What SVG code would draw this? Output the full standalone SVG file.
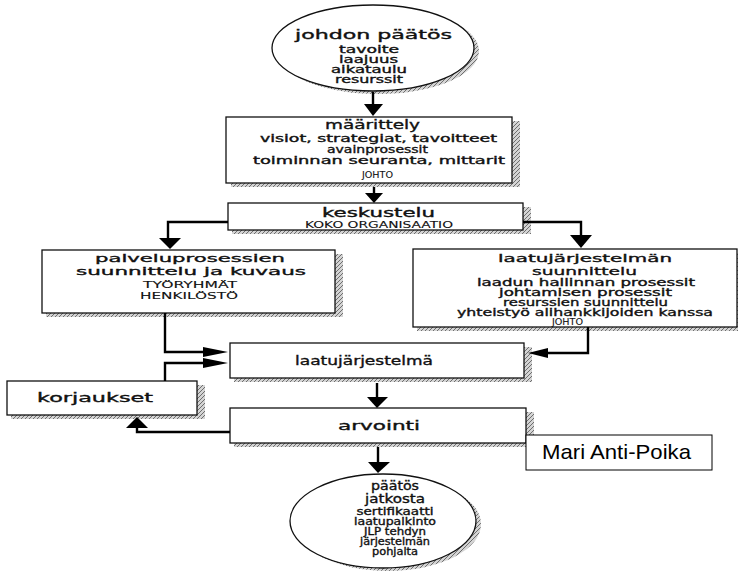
<svg xmlns="http://www.w3.org/2000/svg" width="738" height="571" viewBox="0 0 738 571">
  <defs>
    <pattern id="hatch" width="4" height="4" patternUnits="userSpaceOnUse">
      <rect width="4" height="4" fill="#d4d4d4"/>
      <path d="M0,4 L4,0" stroke="#6e6e6e" stroke-width="1"/>
    </pattern>
    <style>
      .box { fill: #fff; stroke: #111; stroke-width: 1.3; }
      .shadow { fill: url(#hatch); }
      .note { fill: #fff; stroke: #000; stroke-width: 1; }
      .t { font-family: "DejaVu Sans", Verdana, sans-serif; fill: #111; stroke: #111; stroke-width: 0.35; }
      .h { font-size: 12px; }
      .h2 { font-size: 11px; }
      .s { font-size: 10px; }
      .c { font-size: 8.5px; stroke-width: 0.1; }
      .mari { font-family: "Liberation Sans", Arial, sans-serif; font-size: 21px; fill: #000; }
      .line { fill: none; stroke: #000; stroke-width: 2.4; }
      .head { fill: #000; }
    </style>
  </defs>
  <rect width="738" height="571" fill="#fff"/>

  <!-- start: management decision -->
  <g id="johdon-paatos">
    <ellipse class="shadow" cx="378" cy="51" rx="101" ry="43"/>
    <ellipse class="box" cx="373" cy="48" rx="101" ry="43"/>
    <text class="t h" x="295" y="39" textLength="157" lengthAdjust="spacingAndGlyphs">johdon päätös</text>
    <text class="t s" x="339" y="53" textLength="60" lengthAdjust="spacingAndGlyphs">tavoite</text>
    <text class="t s" x="339" y="63" textLength="59" lengthAdjust="spacingAndGlyphs">laajuus</text>
    <text class="t s" x="331" y="73" textLength="76" lengthAdjust="spacingAndGlyphs">aikataulu</text>
    <text class="t s" x="335" y="83" textLength="68" lengthAdjust="spacingAndGlyphs">resurssit</text>
  </g>

  <g id="maarittely">
    <rect class="shadow" x="231" y="121" width="289" height="66"/>
    <rect class="box" x="226" y="117" width="286" height="66"/>
    <text class="t h" x="325" y="129" textLength="95" lengthAdjust="spacingAndGlyphs">määrittely</text>
    <text class="t s" x="260" y="142" textLength="237" lengthAdjust="spacingAndGlyphs">visiot, strategiat, tavoitteet</text>
    <text class="t s" x="327" y="153" textLength="101" lengthAdjust="spacingAndGlyphs">avainprosessit</text>
    <text class="t s" x="253" y="164" textLength="252" lengthAdjust="spacingAndGlyphs">toiminnan seuranta, mittarit</text>
    <text class="t c" x="362" y="178" textLength="31" lengthAdjust="spacingAndGlyphs">JOHTO</text>
  </g>

  <g id="keskustelu">
    <rect class="shadow" x="232" y="207" width="299" height="27"/>
    <rect class="box" x="228" y="203" width="295" height="27"/>
    <text class="t h" x="322" y="217" textLength="113" lengthAdjust="spacingAndGlyphs">keskustelu</text>
    <text class="t c" x="305" y="228" textLength="148" lengthAdjust="spacingAndGlyphs">KOKO ORGANISAATIO</text>
  </g>

  <g id="palveluprosessit">
    <rect class="shadow" x="46" y="254" width="297" height="63"/>
    <rect class="box" x="42" y="250" width="293" height="63"/>
    <text class="t h2" x="95" y="262" textLength="190" lengthAdjust="spacingAndGlyphs">palveluprosessien</text>
    <text class="t h2" x="76" y="275" textLength="230" lengthAdjust="spacingAndGlyphs">suunnittelu ja kuvaus</text>
    <text class="t c" x="143" y="288" textLength="94" lengthAdjust="spacingAndGlyphs">TYÖRYHMÄT</text>
    <text class="t c" x="140" y="299" textLength="98" lengthAdjust="spacingAndGlyphs">HENKILÖSTÖ</text>
  </g>

  <g id="laatujarjestelman-suunnittelu">
    <rect class="shadow" x="417" y="253" width="328" height="78"/>
    <rect class="box" x="413" y="249" width="324" height="78"/>
    <text class="t h2" x="498" y="262" textLength="174" lengthAdjust="spacingAndGlyphs">laatujärjestelmän</text>
    <text class="t h2" x="532" y="275" textLength="105" lengthAdjust="spacingAndGlyphs">suunnittelu</text>
    <text class="t s" x="477" y="286" textLength="218" lengthAdjust="spacingAndGlyphs">laadun hallinnan prosessit</text>
    <text class="t s" x="499" y="296" textLength="173" lengthAdjust="spacingAndGlyphs">johtamisen prosessit</text>
    <text class="t s" x="503" y="306" textLength="165" lengthAdjust="spacingAndGlyphs">resurssien suunnittelu</text>
    <text class="t s" x="457" y="316" textLength="256" lengthAdjust="spacingAndGlyphs">yhteistyö alihankkijoiden kanssa</text>
    <text class="t c" x="552" y="325" textLength="31" lengthAdjust="spacingAndGlyphs">JOHTO</text>
  </g>

  <g id="laatujarjestelma">
    <rect class="shadow" x="234" y="347" width="298" height="35"/>
    <rect class="box" x="230" y="343" width="294" height="35"/>
    <text class="t h" x="295" y="365" textLength="138" lengthAdjust="spacingAndGlyphs">laatujärjestelmä</text>
  </g>

  <g id="korjaukset">
    <rect class="shadow" x="11" y="385" width="194" height="34"/>
    <rect class="box" x="7" y="381" width="190" height="34"/>
    <text class="t h" x="37" y="402" textLength="116" lengthAdjust="spacingAndGlyphs">korjaukset</text>
  </g>

  <g id="arviointi">
    <rect class="shadow" x="234" y="412" width="300" height="35"/>
    <rect class="box" x="230" y="408" width="296" height="35"/>
    <text class="t h" x="338" y="430" textLength="82" lengthAdjust="spacingAndGlyphs">arvointi</text>
  </g>

  <g id="tekija">
    <rect class="note" x="526" y="435" width="186" height="35"/>
    <text class="mari" x="542" y="459" textLength="149" lengthAdjust="spacingAndGlyphs">Mari Anti-Poika</text>
  </g>

  <!-- end: decision on continuation -->
  <g id="paatos-jatkosta">
    <ellipse class="shadow" cx="388" cy="524" rx="93" ry="47"/>
    <ellipse class="box" cx="383" cy="521" rx="93" ry="47"/>
    <text class="t h" text-anchor="middle" x="395" y="490" textLength="48" lengthAdjust="spacingAndGlyphs">päätös</text>
    <text class="t h" text-anchor="middle" x="395" y="503" textLength="60" lengthAdjust="spacingAndGlyphs">jatkosta</text>
    <text class="t s" text-anchor="middle" x="395" y="515" textLength="77" lengthAdjust="spacingAndGlyphs">sertifikaatti</text>
    <text class="t s" text-anchor="middle" x="395" y="525" textLength="82" lengthAdjust="spacingAndGlyphs">laatupalkinto</text>
    <text class="t s" text-anchor="middle" x="395" y="535" textLength="62" lengthAdjust="spacingAndGlyphs">JLP tehdyn</text>
    <text class="t s" text-anchor="middle" x="395" y="545" textLength="70" lengthAdjust="spacingAndGlyphs">järjestelmän</text>
    <text class="t s" text-anchor="middle" x="395" y="555" textLength="46" lengthAdjust="spacingAndGlyphs">pohjalta</text>
  </g>

  <g id="connectors">
    <path class="line" d="M373,92 V105"/>
    <polygon class="head" points="364,104 383,104 373,116"/>

    <path class="line" d="M374,187 V194"/>
    <polygon class="head" points="365,193 383,193 374,203"/>

    <path class="line" d="M228,222 H168 V239"/>
    <polygon class="head" points="159,238 181,238 170,249"/>

    <path class="line" d="M523,222 H581 V236"/>
    <polygon class="head" points="570,235 592,235 581,248"/>

    <path class="line" d="M165,313 V352 H205"/>
    <polygon class="head" points="203,347 203,357 228,352"/>

    <path class="line" d="M165,381 V363 H205"/>
    <polygon class="head" points="203,358 203,368 228,363"/>

    <path class="line" d="M588,327 V353 H546"/>
    <polygon class="head" points="548,348 548,358 528,353"/>

    <path class="line" d="M377,383 V398"/>
    <polygon class="head" points="367,397 388,397 377,408"/>

    <path class="line" d="M230,432 H137 V428"/>
    <polygon class="head" points="126,428 148,428 137,417"/>

    <path class="line" d="M378,447 V463"/>
    <polygon class="head" points="368,462 390,462 378,473"/>
  </g>
</svg>
